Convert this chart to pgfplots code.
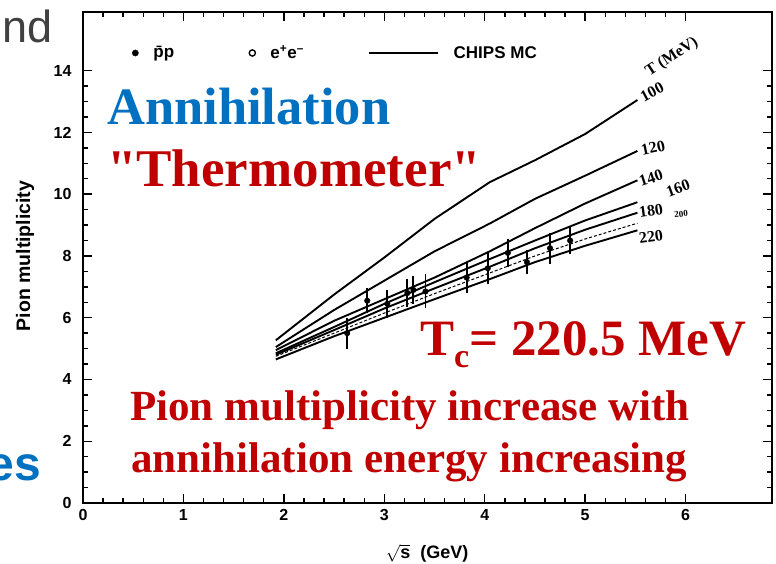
\documentclass[border=0pt]{standalone}
\usepackage{pgfplots}
\pgfplotsset{compat=1.18}
\usepackage{fontspec}
\setmainfont{Liberation Sans}
\newfontfamily\serif{Liberation Serif}
\definecolor{slideblue}{RGB}{0,112,192}
\definecolor{slidered}{RGB}{192,0,0}
\definecolor{slidegray}{RGB}{64,64,64}

% CHIPS MC pion multiplicity curves for several temperatures T (MeV)
\pgfplotstableread{
x     t100  t120  t140  t160  t180  t200  t220
1.92  5.27  5.05  4.95  4.85  4.80  4.75  4.65
2.50  6.75  6.25  5.90  5.70  5.60  5.50  5.40
3.00  7.95  7.20  6.60  6.45  6.30  6.15  6.00
3.50  9.20  8.15  7.30  7.15  6.95  6.78  6.60
4.05  10.39 9.05  8.15  7.90  7.65  7.45  7.25
4.50  11.10 9.85  8.90  8.50  8.25  8.00  7.80
5.00  11.95 10.60 9.70  9.15  8.85  8.55  8.33
5.52  13.05 11.40 10.45 9.74  9.40  9.06  8.83
}\mccurves

% antiproton-proton annihilation data: sqrt(s), multiplicity, error
\pgfplotstableread{
x     y     ey
2.63  5.50  0.50
2.83  6.55  0.40
3.03  6.45  0.45
3.23  6.80  0.45
3.29  6.90  0.45
3.41  6.85  0.55
3.82  7.30  0.50
4.03  7.60  0.50
4.23  8.10  0.45
4.42  7.80  0.40
4.65  8.25  0.50
4.85  8.50  0.45
}\ppbar

\begin{document}
\begin{tikzpicture}
\useasboundingbox (0,0) rectangle (776pt,-564pt);
\begin{axis}[
  at={(83pt,-503pt)}, anchor=south west,
  scale only axis, width=689pt, height=491pt,
  xmin=0, xmax=6.86, ymin=0, ymax=15.9,
  xtick={0,...,6}, ytick={0,2,...,14},
  minor x tick num=4, minor y tick num=3,
  tick align=inside,
  major tick length=9pt, minor tick length=5pt,
  every tick/.style={black, line width=1.4pt},
  axis line style={line width=2.2pt},
  /pgf/number format/assume math mode=true,
  ticklabel style={font=\fontsize{16}{16}\selectfont\bfseries},
  xticklabel style={yshift=-3pt},
  yticklabel style={xshift=-8pt},
  xlabel={$\sqrt{\mathbf{s}}$\ \ (GeV)},
  xlabel style={at={(axis description cs:0.4995,-0.102)}, anchor=center,
    font=\fontsize{18}{18}\selectfont\bfseries},
  ylabel={Pion multiplicity},
  ylabel style={at={(axis description cs:-0.084,0.503)}, anchor=center,
    font=\fontsize{19.5}{19.5}\selectfont\bfseries},
  legend columns=3,
  legend style={at={(rel axis cs:0.0712,0.9165)}, anchor=west,
    draw=none, fill=none, inner sep=0pt,
    font=\fontsize{17}{17}\selectfont\bfseries,
    /tikz/every odd column/.append style={column sep=13pt},
    /tikz/column 2/.style={column sep=73pt},
    /tikz/column 4/.style={column sep=62pt}},
]
\addlegendimage{only marks, mark=*, mark size=3.1pt, black}
\addlegendentry{\=pp}
\addlegendimage{only marks, mark=o, mark size=3.1pt, black, line width=1.4pt}
\addlegendentry{e\textsuperscript{+}e\textsuperscript{--}}
\addlegendimage{legend image code/.code={\draw[line width=1.8pt] (0pt,0pt) -- (69pt,0pt);}}
\addlegendentry{CHIPS MC}

\pgfplotsset{mc/.style={black, line width=1.9pt, no marks, line join=round, forget plot}}
\addplot[mc] table[x=x, y=t100] {\mccurves};
\addplot[mc] table[x=x, y=t120] {\mccurves};
\addplot[mc] table[x=x, y=t140] {\mccurves};
\addplot[mc] table[x=x, y=t160] {\mccurves};
\addplot[mc] table[x=x, y=t180] {\mccurves};
\addplot[black, line width=1pt, densely dashed, no marks, forget plot] table[x=x, y=t200] {\mccurves};
\addplot[mc] table[x=x, y=t220] {\mccurves};

\addplot[black, only marks, mark=*, mark size=2.8pt, forget plot,
  error bars/.cd, y dir=both, y explicit, error mark=none,
  error bar style={line width=1.9pt}]
  table[x=x, y=y, y error=ey] {\ppbar};
\end{axis}

% temperature labels at the curve ends
\begin{scope}[every node/.style={inner sep=0pt, font=\serif\bfseries\fontsize{16}{16}\selectfont}]
\node[rotate=33] at (672pt,-57pt) {T (MeV)};
\node[rotate=28] at (652pt,-92pt) {100};
\node[rotate=12] at (653pt,-148pt) {120};
\node[rotate=18] at (651pt,-178pt) {140};
\node[rotate=20] at (678pt,-188pt) {160};
\node[rotate=8] at (651pt,-211pt) {180};
\node[rotate=5, font=\serif\bfseries\fontsize{9}{9}\selectfont] at (681pt,-214pt) {200};
\node[rotate=8] at (651pt,-237pt) {220};
\end{scope}

% slide text around and over the figure
\node[anchor=base east, inner sep=0pt, text=slidegray, font=\fontsize{45}{45}\selectfont] at (53pt,-43pt) {nd};
\node[anchor=base east, inner sep=0pt, text=slideblue, font=\fontsize{48}{48}\selectfont\bfseries] at (41pt,-480pt) {es};
\node[anchor=base west, inner sep=0pt, text=slideblue, font=\serif\bfseries\fontsize{52.5}{52.5}\selectfont] at (107pt,-125pt) {Annihilation};
\node[anchor=base west, inner sep=0pt, text=slidered, font=\serif\bfseries\fontsize{53}{53}\selectfont] at (107pt,-186pt) {"Thermometer"};
\node[anchor=base west, inner sep=0pt, text=slidered, font=\serif\bfseries\fontsize{51}{51}\selectfont] at (420pt,-355pt)
  {T\raisebox{-12pt}{\fontsize{34}{34}\selectfont c}= 220.5 MeV};
\node[anchor=base west, inner sep=0pt, text=slidered, font=\serif\bfseries\fontsize{43}{43}\selectfont] at (130pt,-420pt) {Pion multiplicity increase with};
\node[anchor=base west, inner sep=0pt, text=slidered, font=\serif\bfseries\fontsize{43}{43}\selectfont] at (131pt,-472pt) {annihilation energy increasing};
\end{tikzpicture}
\end{document}
